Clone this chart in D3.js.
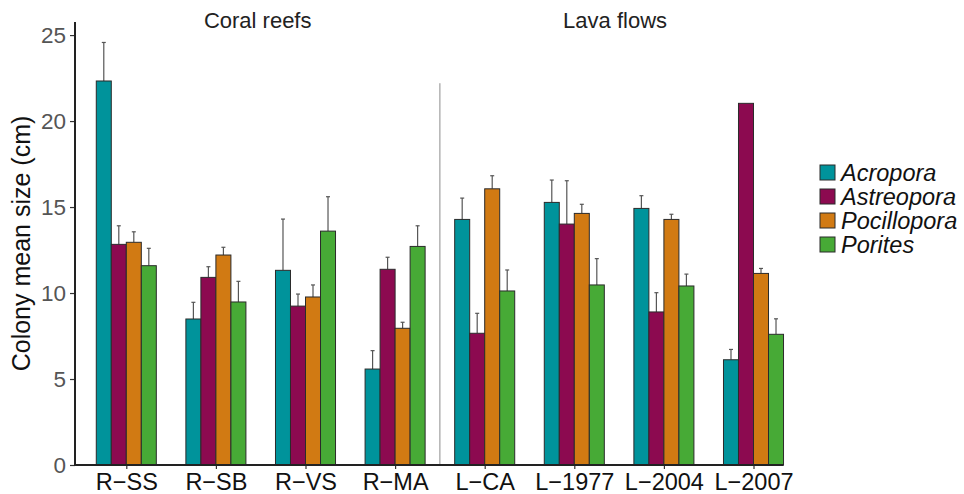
<!DOCTYPE html>
<html>
<head>
<meta charset="utf-8">
<script src="https://cdn.jsdelivr.net/npm/d3@7"></script>
<style>
  html, body { margin: 0; padding: 0; background: #fff; }
  svg { display: block; font-family: "Liberation Sans", Arial, Helvetica, sans-serif; }
</style>
</head>
<body>
<svg id="chart" width="964" height="494"></svg>
<script>
// ---- Data ----
const sites = ["R\u2212SS", "R\u2212SB", "R\u2212VS", "R\u2212MA", "L\u2212CA", "L\u22121977", "L\u22122004", "L\u22122007"];
const species = ["Acropora", "Astreopora", "Pocillopora", "Porites"];
const acroporaMean    = [22.33, 8.49, 11.32, 5.58, 14.28, 15.27, 14.92, 6.12];
const acroporaSE      = [2.24, 0.97, 2.98, 1.07, 1.24, 1.30, 0.74, 0.60];
const astreoporaMean  = [12.83, 10.91, 9.24, 11.38, 7.66, 14.01, 8.90, 21.03];
const astreoporaSE    = [1.08, 0.62, 0.70, 0.70, 1.16, 2.52, 1.12, 0.00];
const pocilloporaMean = [12.95, 12.21, 9.77, 7.95, 16.06, 14.63, 14.28, 11.14];
const pocilloporaSE   = [0.61, 0.45, 0.70, 0.35, 0.76, 0.53, 0.30, 0.29];
const poritesMean     = [11.59, 9.48, 13.60, 12.71, 10.12, 10.47, 10.41, 7.60];
const poritesSE       = [1.01, 1.20, 2.00, 1.20, 1.22, 1.53, 0.69, 0.90];
const yTicks = [0, 5, 10, 15, 20, 25];
const habitatLabels = ["Coral reefs", "Lava flows"];
const speciesColors = ["#00939b", "#8c0a50", "#d17a13", "#47aa36"];

const means = [acroporaMean, astreoporaMean, pocilloporaMean, poritesMean];
const ses = [acroporaSE, astreoporaSE, pocilloporaSE, poritesSE];
const rows = [];
sites.forEach((s, i) => species.forEach((sp, j) => rows.push({site: s, species: sp, mean: means[j][i], se: ses[j][i]})));

// ---- Layout ----
const svg = d3.select("#chart");
const axisX = 75, yBottom = 465, yTop = 22;

const x = d3.scaleBand().domain(sites).range([81.5, 798.3]).paddingInner(0.33).paddingOuter(0.165);
const xs = d3.scaleBand().domain(species).range([0, x.bandwidth()]);
const y = d3.scaleLinear().domain([0, 25.76]).range([yBottom, yTop]);
const color = d3.scaleOrdinal().domain(species).range(speciesColors);

// separator line between habitats
const sepX = (x(sites[3]) + x.bandwidth() + x(sites[4])) / 2;
svg.append("line")
  .attr("x1", sepX).attr("x2", sepX)
  .attr("y1", y(22.2)).attr("y2", yBottom)
  .attr("stroke", "#8c8c8c").attr("stroke-width", 1);

// error bars (upper only)
const eb = svg.append("g");
rows.filter(d => d.se > 0).forEach(d => {
  const cx = x(d.site) + xs(d.species) + xs.bandwidth() / 2;
  eb.append("line").attr("x1", cx).attr("x2", cx)
    .attr("y1", y(d.mean)).attr("y2", y(d.mean + d.se))
    .attr("stroke", "#555").attr("stroke-width", 1.2);
  eb.append("line").attr("x1", cx - 2).attr("x2", cx + 2)
    .attr("y1", y(d.mean + d.se)).attr("y2", y(d.mean + d.se))
    .attr("stroke", "#555").attr("stroke-width", 1.2);
});

// bars
svg.append("g").selectAll("rect").data(rows).join("rect")
  .attr("x", d => x(d.site) + xs(d.species))
  .attr("y", d => y(d.mean))
  .attr("width", xs.bandwidth())
  .attr("height", d => yBottom - y(d.mean))
  .attr("fill", d => color(d.species))
  .attr("stroke", "#2b2b2b").attr("stroke-width", 1);

// y axis
const yAxis = d3.axisLeft(y).tickValues(yTicks).tickSize(5).tickPadding(4);
const gy = svg.append("g").attr("transform", `translate(${axisX},0)`).call(yAxis);
gy.select(".domain").remove();
gy.selectAll(".tick line").attr("stroke", "#333").attr("stroke-width", 1.2);
gy.selectAll(".tick text").attr("fill", "#555").attr("font-size", 22.5)
  .attr("font-family", "Liberation Sans, Arial, sans-serif");
svg.append("line").attr("x1", axisX).attr("x2", axisX).attr("y1", yTop).attr("y2", yBottom + 1)
  .attr("stroke", "#222").attr("stroke-width", 2);

// x axis
const xRight = x(sites[sites.length - 1]) + x.bandwidth();
const xPoint = d3.scalePoint().domain(sites).range([x(sites[0]) + x.bandwidth() / 2, x(sites[7]) + x.bandwidth() / 2]);
const xAxis = d3.axisBottom(xPoint).tickSize(4).tickPadding(4);
const gx = svg.append("g").attr("transform", `translate(0,${yBottom})`).call(xAxis);
gx.select(".domain").remove();
gx.selectAll(".tick line").attr("stroke", "#333").attr("stroke-width", 1.2);
gx.selectAll(".tick text").attr("fill", "#111").attr("font-size", 23.5)
  .attr("font-family", "Liberation Sans, Arial, sans-serif");
svg.append("line").attr("x1", axisX - 1).attr("x2", xRight).attr("y1", yBottom).attr("y2", yBottom)
  .attr("stroke", "#222").attr("stroke-width", 2);

// y title
svg.append("text")
  .attr("transform", `translate(30,${(yTop + yBottom) / 2}) rotate(-90)`)
  .attr("text-anchor", "middle").attr("font-size", 25).attr("fill", "#111")
  .text("Colony mean size (cm)");

// habitat titles
const titleX = [(x(sites[1]) + x(sites[2]) + x.bandwidth()) / 2 - 3, (x(sites[5]) + x(sites[6]) + x.bandwidth()) / 2 - 4];
habitatLabels.forEach((t, i) => {
  svg.append("text").attr("x", titleX[i]).attr("y", 28)
    .attr("text-anchor", "middle").attr("font-size", 22).attr("fill", "#222").text(t);
});

// legend
const lg = svg.append("g").attr("transform", "translate(820,165)");
species.forEach((sp, i) => {
  const g = lg.append("g").attr("transform", `translate(0,${i * 24})`);
  g.append("rect").attr("x", 0).attr("y", 0).attr("width", 15).attr("height", 15)
    .attr("fill", color(sp)).attr("stroke", "#2b2b2b").attr("stroke-width", 1);
  g.append("text").attr("x", 21).attr("y", 16)
    .attr("font-size", 23.5).attr("font-style", "italic").attr("fill", "#111").text(sp);
});
</script>
</body>
</html>
